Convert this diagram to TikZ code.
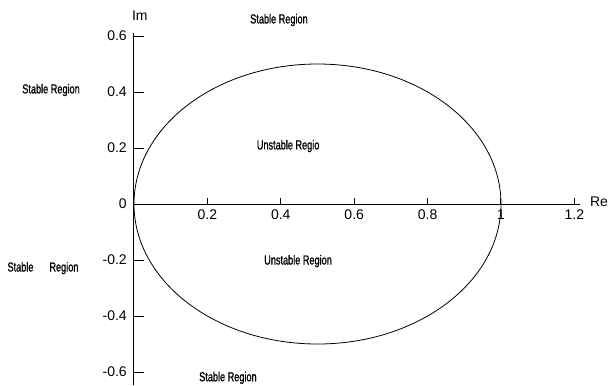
\documentclass[tikz,border=0pt]{standalone}
\usepackage{fontspec}
\setmainfont{Liberation Sans}
\newfontfamily\regionfont{Liberation Sans}[FakeStretch=0.7, FakeBold=1]
\usetikzlibrary{positioning}

\begin{document}
\begin{tikzpicture}[x=275.25pt, y=210pt, font=\fontsize{10.5}{12}\selectfont]
\tikzstyle{region}=[inner sep=0pt, font=\regionfont\fontsize{9.8}{11}\selectfont]
\tikzstyle{axis}=[line width=0.75pt]
\tikzstyle{curve}=[line width=0.6pt]
\useasboundingbox (-0.3651,-0.6464) rectangle (1.2943,0.7286);
% axes
\coordinate (o) at (0,0);
\coordinate (ytop) at (0,0.6107);
\coordinate (ybot) at (0,-0.6464);
\coordinate (xend) at (1.215,0);
\draw[axis] (ybot) -- (ytop);
\draw[axis] (o) -- (xend);
\node[inner sep=1pt] (im) at (0.016,0.671) {Im};
\node[inner sep=1pt] (re) at (1.267,0.007) {Re};
% ticks
\foreach \x/\lab in {0.2/0.2,0.4/0.4,0.6/0.6,0.8/0.8,1/1,1.2/1.2}{
  \draw[axis] (\x,0) -- (\x,0.021);
  \node[below, inner sep=2pt] (xl\lab) at (\x,-0.01) {\lab};
}
\foreach \y/\lab in {0.6/0.6,0.4/0.4,0.2/0.2,-0.2/-0.2,-0.4/-0.4,-0.6/-0.6}{
  \draw[axis] (0,\y) -- (0.027,\y);
  \node[left, inner sep=0pt] (yl\lab) at (-0.019,\y) {\lab};
}
\node[left, inner sep=0pt] (yl0) at (-0.019,0) {0};
% boundary circle
\draw[curve] (0.5,0) ellipse [x radius=0.5, y radius=0.5];
% regions
\node[region] (stop) at (0.395,0.657) {Stable Region};
\node[region] (sleft) at (-0.226,0.407) {Stable Region};
\node[region] (sleft2) at (-0.248,-0.229) {Stable\hspace{12pt}Region};
\node[region] (uup) at (0.420,0.207) {Unstable Regio};
\node[region] (ulow) at (0.447,-0.204) {Unstable Region};
\node[region] (sbot) at (0.256,-0.621) {Stable Region};
\end{tikzpicture}
\end{document}
